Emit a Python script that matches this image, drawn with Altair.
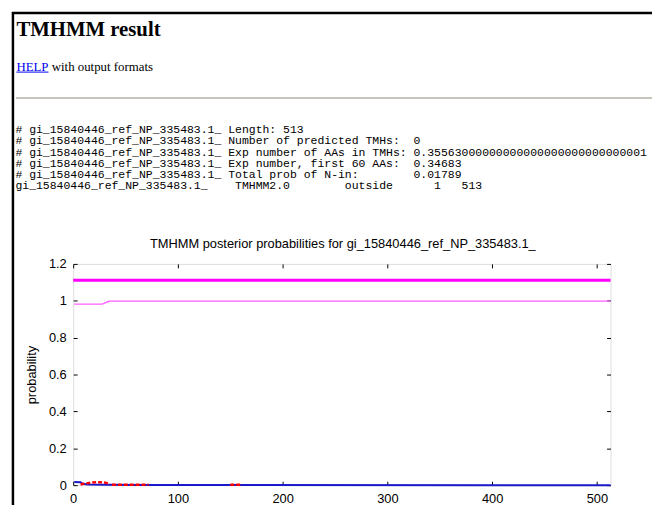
import altair as alt
import pandas as pd

# ---------------- page text ----------------
page_title = "TMHMM result"
help_link = "HELP"
help_rest = "with output formats"
summary_lines = [
    "# gi_15840446_ref_NP_335483.1_ Length: 513",
    "# gi_15840446_ref_NP_335483.1_ Number of predicted TMHs:  0",
    "# gi_15840446_ref_NP_335483.1_ Exp number of AAs in TMHs: 0.35563000000000000000000000000001",
    "# gi_15840446_ref_NP_335483.1_ Exp number, first 60 AAs:  0.34683",
    "# gi_15840446_ref_NP_335483.1_ Total prob of N-in:        0.01789",
    "gi_15840446_ref_NP_335483.1_    TMHMM2.0        outside      1   513",
]
plot_title = "TMHMM posterior probabilities for gi_15840446_ref_NP_335483.1_"
y_title = "probability"

# ---------------- data ----------------
x_ticks = [0, 100, 200, 300, 400, 500]
y_ticks = [0, 0.2, 0.4, 0.6, 0.8, 1, 1.2]

# predicted topology line (outside), drawn above the curves
topo_pos = [0, 513]
topo_level = [1.112, 1.112]

# posterior probability of "outside"
out_pos = [1, 27, 29, 31, 33, 35, 513]
out_prob = [0.982, 0.982, 0.985, 0.99, 0.995, 0.998, 0.998]

# posterior probability of "inside"
in_pos = [1, 7, 9, 14, 30, 60, 513]
in_prob = [0.017, 0.016, 0.008, 0.004, 0.002, 0.0005, 0.0]

# posterior probability of "transmembrane" (non-zero stretches only)
tm_seg = [1, 1, 1, 1, 1, 1, 1, 1, 1, 2, 2, 3, 3]
tm_pos = [7, 10, 14, 18, 22, 26, 30, 33, 35, 37, 72, 150, 161]
tm_prob = [0.004, 0.008, 0.011, 0.014, 0.016, 0.016, 0.014, 0.01, 0.005,
           0.002, 0.002, 0.002, 0.002]

# ---------------- helpers ----------------
NB = "\u00a0"
def keep_spaces(s):
    return s.replace(" ", NB)

SANS = "Liberation Sans"
SERIF = "Liberation Serif"
MONO = "Liberation Mono"

W, H = 544, 224

xscale = alt.Scale(domain=[0, 513], nice=False, zero=False)
yscale = alt.Scale(domain=[0, 1.2], nice=False)

xaxis = alt.Axis(values=x_ticks, format="d", ticks=False, tickSize=0, domain=False,
                 grid=True, gridColor="#000000", gridWidth=1, gridOpacity=1,
                 gridDash=[4, H - 8, 4], labelFont=SANS, labelFontSize=13,
                 labelColor="#000000", labelPadding=8, labelFlush=False,
                 labelOverlap=False, title=None)
yaxis = alt.Axis(values=y_ticks, format="~g", ticks=False, tickSize=0, domain=False,
                 grid=True, gridColor="#000000", gridWidth=1, gridOpacity=1,
                 gridDash=[4, W - 8, 4], labelFont=SANS, labelFontSize=13,
                 labelColor="#000000", labelPadding=7, labelFlush=False,
                 labelOverlap=False, title=y_title, titleFont=SANS, titleFontSize=13,
                 titleFontWeight="normal", titleColor="#000000", titleAngle=270,
                 titleX=-38.5, titleY=112, titleAlign="center",
                 titleBaseline="alphabetic")

def X():
    return alt.X("pos:Q", scale=xscale, axis=xaxis)

def Y():
    return alt.Y("prob:Q", scale=yscale, axis=yaxis)

outside = alt.Chart(pd.DataFrame({"pos": out_pos, "prob": out_prob})).mark_line(
    color="#ff5cff", strokeWidth=1.4).encode(x=X(), y=Y())

inside = alt.Chart(pd.DataFrame({"pos": in_pos, "prob": in_prob})).mark_line(
    color="#1a1acc", strokeWidth=2).encode(x=X(), y=Y())

tm = alt.Chart(pd.DataFrame({"pos": tm_pos, "prob": tm_prob, "seg": tm_seg})).mark_line(
    color="#ff0000", strokeWidth=2.5, strokeDash=[4, 2]).encode(
    x=X(), y=Y(), detail="seg:N")

topo = alt.Chart(pd.DataFrame({"pos": topo_pos, "prob": topo_level})).mark_line(
    color="#ff00ff", strokeWidth=3).encode(x=X(), y=Y())

one = pd.DataFrame({"k": [0]})

def text_layer(txt, x, y, **kw):
    return alt.Chart(one).mark_text(text=txt, align=kw.pop("align", "left"),
                                    baseline="alphabetic", **kw).encode(
        x=alt.value(x), y=alt.value(y))

def rule_layer(x, y, x2=None, y2=None, **kw):
    enc = {"x": alt.value(x), "y": alt.value(y)}
    if x2 is not None:
        enc["x2"] = alt.value(x2)
    if y2 is not None:
        enc["y2"] = alt.value(y2)
    return alt.Chart(one).mark_rule(**kw).encode(**enc)

# positions relative to the plot origin (page x=74, y=264)
heading = text_layer(page_title, -57.5, -230.7, font=SERIF, fontSize=21,
                     fontWeight="bold", color="#000000")
help_a = text_layer(help_link, -57.5, -195.7, font=SERIF, fontSize=13, color="#0000ee")
help_u = rule_layer(-57.5, -194.2, x2=-25.0, color="#0000ee", strokeWidth=1)
help_b = text_layer(help_rest, -21.7, -195.7, font=SERIF, fontSize=13, color="#000000")
hr = rule_layer(-58, -168, x2=586, color="#b4b0a4", strokeWidth=1.5)
border_v = rule_layer(-61, -255, y2=244, color="#000000", strokeWidth=2.5)
border_h = rule_layer(-62, -254, x2=586, color="#000000", strokeWidth=2.5)
summary = text_layer([keep_spaces(s) for s in summary_lines], -58.5, -132.4,
                     font=MONO, fontSize=11.6, lineHeight=11.33, color="#000000")
ptitle = text_layer(plot_title, W / 2 + 1, -16, font=SANS, fontSize=13,
                    color="#000000", align="center")

chart = alt.layer(
    outside, inside, tm, topo,
    heading, help_a, help_u, help_b, hr, border_v, border_h, summary, ptitle,
).properties(
    width=W, height=H,
    padding={"left": 66, "top": 256, "right": 42, "bottom": 20},
    autosize=alt.AutoSizeParams(type="none"),
).configure_view(
    stroke="#666666", strokeWidth=1
).configure(background="#ffffff")

chart.save("out.html", embed_options={"renderer": "svg", "actions": False})
